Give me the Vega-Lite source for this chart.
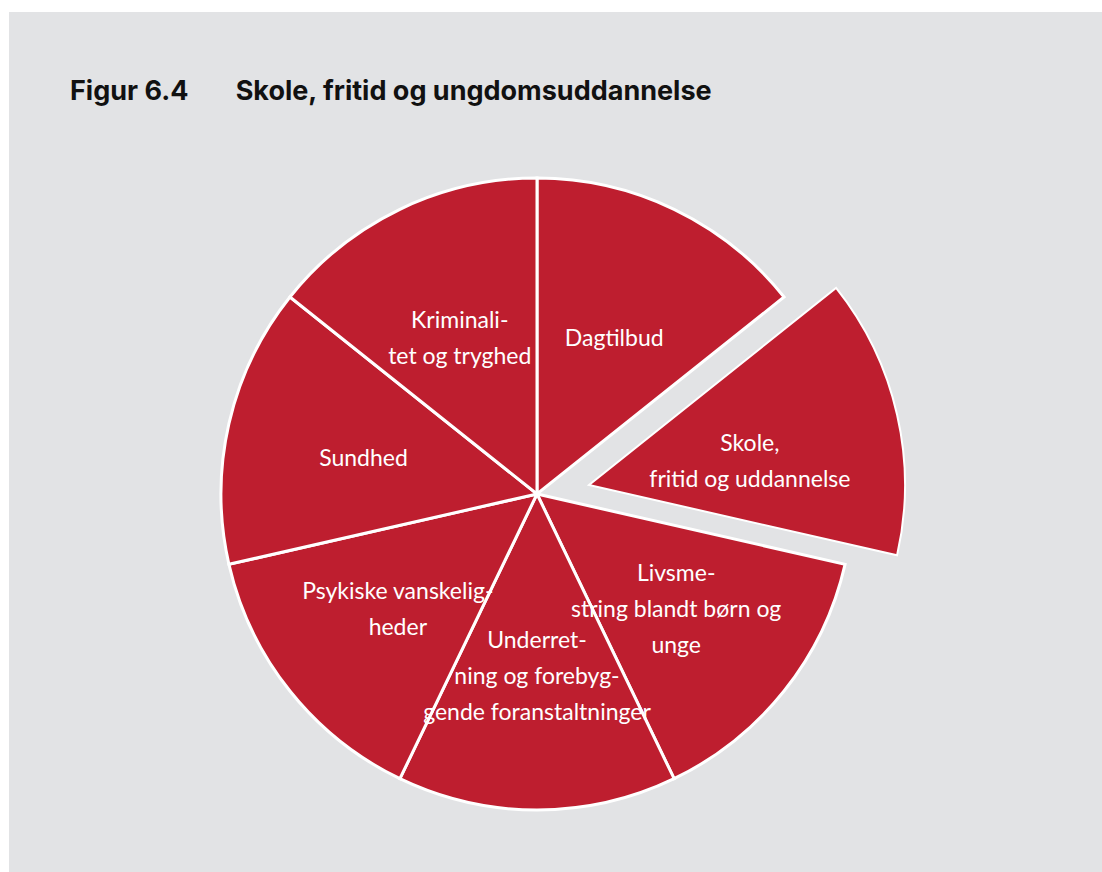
{
  "$schema": "https://vega.github.io/schema/vega-lite/v6.json",
  "width": 1093,
  "height": 860,
  "autosize": {"type": "none"},
  "padding": {"left": 9, "top": 12, "right": 0, "bottom": 0},
  "background": "#ffffff",
  "view": {"fill": "#e2e3e5", "stroke": null},
  "title": {
    "text": "Figur 6.4\u2003\u2002\u2005Skole, fritid og ungdomsuddannelse",
    "anchor": "start",
    "frame": "group",
    "dx": 61,
    "offset": -115,
    "baseline": "alphabetic",
    "font": "Inter",
    "fontSize": 27,
    "fontWeight": "bold",
    "color": "#111111"
  },
  "data": {
    "values": [
      {"omraade": "Dagtilbud", "andel": 1, "orden": 1, "label": "Dagtilbud", "udtrukket": false},
      {"omraade": "Skole, fritid og uddannelse", "andel": 1, "orden": 2, "label": "Skole,\nfritid og uddannelse", "udtrukket": true},
      {"omraade": "Livsmestring blandt børn og unge", "andel": 1, "orden": 3, "label": "Livsme-\nstring blandt børn og\nunge", "udtrukket": false},
      {"omraade": "Underretning og forebyggende foranstaltninger", "andel": 1, "orden": 4, "label": "Underret-\nning og forebyg-\ngende foranstaltninger", "udtrukket": false},
      {"omraade": "Psykiske vanskeligheder", "andel": 1, "orden": 5, "label": "Psykiske vanskelig-\nheder", "udtrukket": false},
      {"omraade": "Sundhed", "andel": 1, "orden": 6, "label": "Sundhed", "udtrukket": false},
      {"omraade": "Kriminalitet og tryghed", "andel": 1, "orden": 7, "label": "Kriminali-\ntet og tryghed", "udtrukket": false}
    ]
  },
  "encoding": {
    "theta": {"field": "andel", "type": "quantitative", "stack": true},
    "order": {"field": "orden", "type": "quantitative"}
  },
  "layer": [
    {
      "mark": {"type": "arc", "fill": "#be1e2f", "stroke": "#ffffff", "strokeWidth": 3, "radius": 316, "xOffset": -18.5, "yOffset": 52},
      "encoding": {
        "opacity": {"condition": {"test": "datum.udtrukket", "value": 0}, "value": 1}
      }
    },
    {
      "mark": {"type": "arc", "fill": "#be1e2f", "stroke": "#ffffff", "strokeWidth": 2, "radius": 316, "xOffset": 33.5, "yOffset": 43},
      "encoding": {
        "opacity": {"condition": {"test": "datum.udtrukket", "value": 1}, "value": 0}
      }
    },
    {
      "mark": {"type": "text", "radius": 178, "xOffset": -18.5, "yOffset": 52, "dy": {"expr": "5 - 18 * (length(split(datum.label, '\\n')) - 1)"}, "lineBreak": "\n", "lineHeight": 36, "font": "Lato", "fontSize": 23, "color": "#ffffff", "fill": "#ffffff", "align": "center", "baseline": "middle"},
      "encoding": {
        "text": {"field": "label", "type": "nominal"},
        "opacity": {"condition": {"test": "datum.udtrukket", "value": 0}, "value": 1}
      }
    },
    {
      "mark": {"type": "text", "radius": 165, "xOffset": 33.5, "yOffset": 43, "dy": -4, "lineBreak": "\n", "lineHeight": 36, "font": "Lato", "fontSize": 23, "color": "#ffffff", "fill": "#ffffff", "align": "center", "baseline": "middle"},
      "encoding": {
        "text": {"field": "label", "type": "nominal"},
        "opacity": {"condition": {"test": "datum.udtrukket", "value": 1}, "value": 0}
      }
    }
  ]
}
